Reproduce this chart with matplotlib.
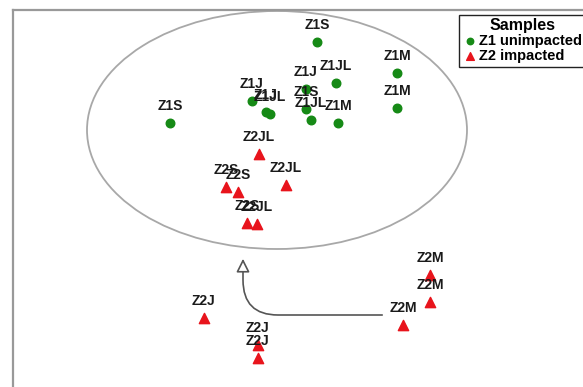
import matplotlib
matplotlib.use("Agg")
import matplotlib.pyplot as plt
from matplotlib.patches import Ellipse

plt.rcParams['font.family'] = ['Liberation Sans', 'DejaVu Sans']

# ordination scores
z1_labels = ['Z1S', 'Z1M', 'Z1M', 'Z1JL', 'Z1J', 'Z1S', 'Z1JL', 'Z1M', 'Z1S', 'Z1J', 'Z1J', 'Z1JL']
z1_x = [0.40, 1.20, 1.20, 0.59, 0.29, 0.29, 0.34, 0.61, -1.07, -0.25, -0.11, -0.07]
z1_y = [0.89, 0.58, 0.23, 0.48, 0.42, 0.22, 0.11, 0.08, 0.08, 0.30, 0.19, 0.17]

z2_labels = ['Z2JL', 'Z2S', 'Z2S', 'Z2JL', 'Z2S', 'Z2JL', 'Z2J', 'Z2J', 'Z2J', 'Z2M', 'Z2M', 'Z2M']
z2_x = [-0.18, -0.51, -0.39, 0.09, -0.30, -0.20, -0.73, -0.19, -0.19, 1.26, 1.53, 1.53]
z2_y = [-0.23, -0.56, -0.61, -0.54, -0.92, -0.93, -1.87, -2.14, -2.27, -1.94, -1.44, -1.71]

green = '#168a16'
red = '#e8141c'

fig = plt.figure(figsize=(5.83, 3.87), dpi=100)
ax = fig.add_axes([13/583, 0, 570/583, 377/387])
ax.set_xlim(-2.64, 3.06)
ax.set_ylim(-2.56, 1.21)
ax.set_xticks([])
ax.set_yticks([])
for s in ['right', 'bottom']:
    ax.spines[s].set_visible(False)
for s in ['left', 'top']:
    ax.spines[s].set_color('#999999')
    ax.spines[s].set_linewidth(1.6)

# cluster ellipse
ax.add_patch(Ellipse((0, 0.01), 3.80, 2.38, fill=False, edgecolor='#a8a8a8', lw=1.3))

# arrow from impacted to unimpacted
ax.annotate('', xy=(-0.34, -1.25), xytext=(1.08, -1.84),
            arrowprops=dict(arrowstyle='-|>,head_length=0.8,head_width=0.4',
                            connectionstyle='angle,angleA=0,angleB=90,rad=35',
                            facecolor='white', edgecolor='#555555', lw=1.2))

ax.scatter(z1_x, z1_y, s=38, marker='o', color=green, zorder=3, label='Z1 unimpacted')
ax.scatter(z2_x, z2_y, s=55, marker='^', color=red, zorder=3, label='Z2 impacted')

for lab, x, y in zip(z1_labels, z1_x, z1_y):
    ax.annotate(lab, (x, y), xytext=(0, 12), textcoords='offset points',
                ha='center', va='center', fontsize=10, fontweight='bold', color='#1a1a1a', zorder=4)
for lab, x, y in zip(z2_labels, z2_x, z2_y):
    ax.annotate(lab, (x, y), xytext=(0, 12.5), textcoords='offset points',
                ha='center', va='center', fontsize=10, fontweight='bold', color='#1a1a1a', zorder=4)

leg = ax.legend(loc='upper right', bbox_to_anchor=(1.01, 0.995), title='Samples',
                fancybox=False, framealpha=1, edgecolor='#222222',
                prop={'weight': 'bold', 'size': 10.5}, handletextpad=0.1,
                handlelength=1.0, borderpad=0.25, labelspacing=0.05,
                markerscale=0.75, borderaxespad=0.2)
leg.get_title().set_fontweight('bold')
leg.get_title().set_fontsize(11.5)
leg.set_zorder(5)

fig.savefig('out.png', dpi=100)
